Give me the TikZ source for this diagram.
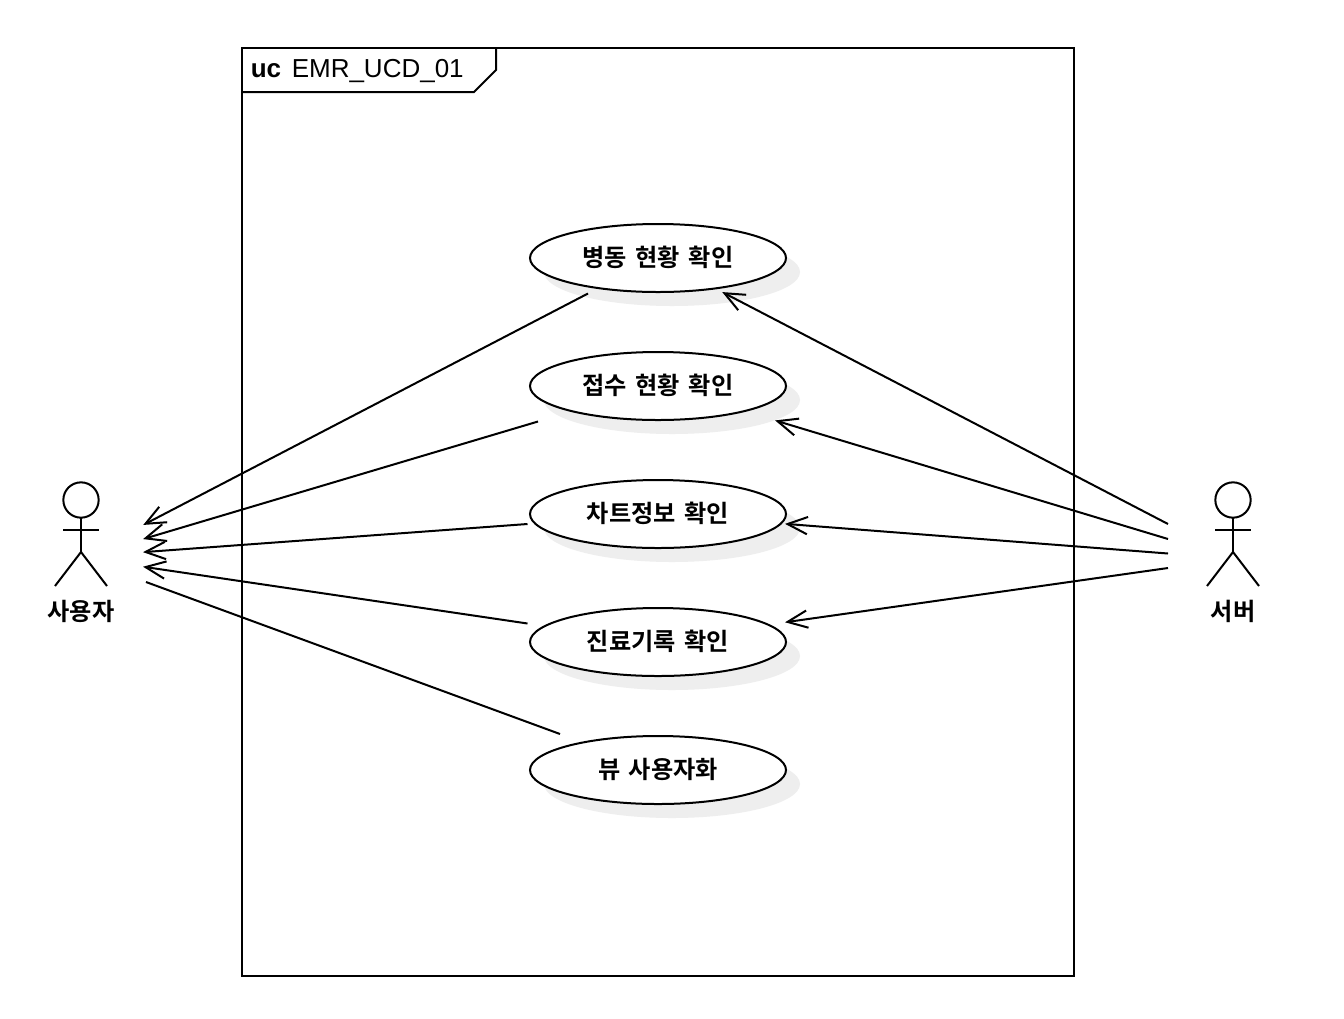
\documentclass[tikz,border=0pt]{standalone}
\usepackage{fontspec}
\setmainfont{Liberation Sans}
\newfontfamily\krfont{Noto Sans CJK KR Bold}[BoldFont={Noto Sans CJK KR Bold},WordSpace=1.55]
\usetikzlibrary{arrows.meta,shapes.geometric}
\tikzset{
  px/.style={x=0.75pt,y=-0.75pt},
  ln/.style={draw=black,line width=1.5pt},
  usecase/.style={ellipse,draw=black,line width=1.5pt,fill=white,minimum width=192pt,minimum height=51pt,inner sep=0pt,outer sep=0pt},
  ucshadow/.style={ellipse,fill=black!6.5,minimum width=192pt,minimum height=51pt,inner sep=0pt,outer sep=0pt},
  uclabel/.style={font=\krfont\fontsize{18.15}{20}\selectfont,anchor=center,inner sep=0pt},
  assoc/.style={ln,line join=miter},
  nav/.style={assoc,shorten >=-1.5pt,-{Straight Barb[length=15pt,width=13pt,line width=1.5pt]}},
  actorhead/.style={circle,ln,minimum size=26.5pt,inner sep=0pt,outer sep=0pt},
}
\begin{document}
\begin{tikzpicture}[px]
\useasboundingbox (0,0) rectangle (1344,1018);
\fill[white] (0,0) rectangle (1344,1018);
% shadows
\foreach \n/\y in {s1/258,s2/386,s3/514,s4/642,s5/770}
  \node[ucshadow] (\n) at (672,\y+14) {};
% frame
\coordinate (f1) at (242,48);
\coordinate (f2) at (1074,48);
\coordinate (f3) at (1074,976);
\coordinate (f4) at (242,976);
\coordinate (t1) at (496,48);
\coordinate (t2) at (496,70);
\coordinate (t3) at (474,92);
\coordinate (t4) at (242,92);
\draw[ln] (f1) -- (f2) -- (f3) -- (f4) -- cycle;
\draw[ln] (t1) -- (t2) -- (t3) -- (t4);
\node[anchor=base west,inner sep=0pt,font=\fontsize{19.5}{22}\selectfont\bfseries] (ucl) at (250.5,77) {uc};
\node[anchor=base west,inner sep=0pt,font=\fontsize{19.5}{22}\selectfont] (ucn) at (291.5,77) {EMR\_UCD\_01};
% use cases
\node[usecase] (u1) at (658,258) {};
\node[usecase] (u2) at (658,386) {};
\node[usecase] (u3) at (658,514) {};
\node[usecase] (u4) at (658,642) {};
\node[usecase] (u5) at (658,770) {};
\node[uclabel] (l1) at (658,257) {병동 현황 확인};
\node[uclabel] (l2) at (658,385) {접수 현황 확인};
\node[uclabel] (l3) at (658,513) {차트정보 확인};
\node[uclabel] (l4) at (658,641) {진료기록 확인};
\node[uclabel] (l5) at (658,769) {뷰 사용자화};
% actors
\node[actorhead] (ah) at (81,500) {};
\coordinate (ab) at (81,552);
\coordinate (aal) at (63,530);
\coordinate (aar) at (99,530);
\coordinate (all) at (55,586);
\coordinate (alr) at (107,586);
\draw[ln] (ah) -- (ab);
\draw[ln] (aal) -- (aar);
\draw[ln] (all) -- (ab) -- (alr);
\node[uclabel] (an) at (81,611) {사용자};
\node[actorhead] (bh) at (1233,500) {};
\coordinate (bb) at (1233,552);
\coordinate (bal) at (1215,530);
\coordinate (bar) at (1251,530);
\coordinate (bll) at (1207,586);
\coordinate (blr) at (1259,586);
\draw[ln] (bh) -- (bb);
\draw[ln] (bal) -- (bar);
\draw[ln] (bll) -- (bb) -- (blr);
\node[uclabel] (bn) at (1233,611) {서버};
% connector ends
\coordinate (a1) at (145,524);
\coordinate (a2) at (145,538.5);
\coordinate (a3) at (145,552);
\coordinate (a4) at (145,567);
\coordinate (a5) at (146,582);
\coordinate (p1) at (588,293.5);
\coordinate (p2) at (538,421.5);
\coordinate (p3) at (527.5,524);
\coordinate (p4) at (527.5,623.5);
\coordinate (p5) at (560,734);
\coordinate (b1) at (1168,524);
\coordinate (b2) at (1168,539);
\coordinate (b3) at (1168,553.5);
\coordinate (b4) at (1168,568);
\coordinate (q1) at (724,293);
\coordinate (q2) at (777,421);
\coordinate (q3) at (787,524);
\coordinate (q4) at (787,622);
\draw[nav] (p1) -- (a1);
\draw[nav] (p2) -- (a2);
\draw[nav] (p3) -- (a3);
\draw[nav] (p4) -- (a4);
\draw[assoc] (p5) -- (a5);
\draw[nav] (b1) -- (q1);
\draw[nav] (b2) -- (q2);
\draw[nav] (b3) -- (q3);
\draw[nav] (b4) -- (q4);
\end{tikzpicture}
\end{document}
